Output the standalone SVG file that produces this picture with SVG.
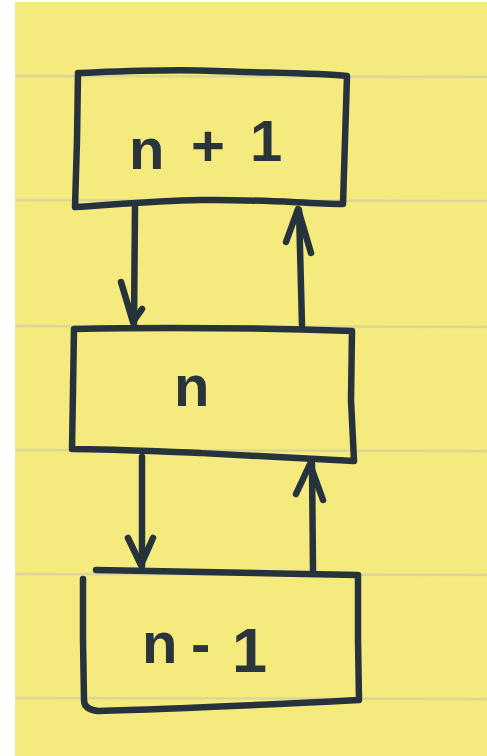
<svg xmlns="http://www.w3.org/2000/svg" width="487" height="756" viewBox="0 0 487 756">
  <style>
    .ink { fill: none; stroke: #27333c; stroke-width: 6.5; stroke-linecap: round; stroke-linejoin: round; }
    .rule { stroke: #dcd69b; stroke-width: 2.5; }
    .label { font-family: "Liberation Sans", Arial, sans-serif; font-weight: bold; font-size: 58px; fill: #2a343b; }
  </style>

  <!-- legal pad sheet -->
  <rect width="487" height="756" fill="#ffffff"/>
  <rect x="15" y="2" width="472" height="754" fill="#f4ea7e"/>
  <g id="ruling">
    <line class="rule" x1="15" y1="76" x2="487" y2="77"/>
    <line class="rule" x1="15" y1="200" x2="487" y2="201"/>
    <line class="rule" x1="15" y1="326" x2="487" y2="327"/>
    <line class="rule" x1="15" y1="450" x2="487" y2="451"/>
    <line class="rule" x1="15" y1="574" x2="487" y2="575"/>
    <line class="rule" x1="15" y1="698" x2="487" y2="699"/>
  </g>

  <!-- stack frames -->
  <g id="node-n-plus-1">
    <path class="ink" d="M78,73 C130,71 170,69 215,71 C270,73 320,73 347,76 L345,140 L343,204 C300,203 250,199 200,200 C150,201 110,205 75,207 L77,140 Z"/>
    <text class="label"><tspan x="129" y="169">n</tspan> <tspan x="191" y="166">+</tspan> <tspan x="250" y="161">1</tspan></text>
  </g>

  <g id="node-n">
    <path class="ink" d="M74,329 C160,327 260,328 352,331 L351,400 L354,461 C300,458 250,456 200,453 C150,451 110,449 72,449 L73,390 Z"/>
    <text class="label"><tspan x="174" y="406">n</tspan></text>
  </g>

  <g id="node-n-minus-1">
    <path class="ink" d="M96,570 C180,572 270,573 358,575 L358,640 L359,700 C280,704 180,709 98,711 C88,710 84,706 84,700 L83,640 L83,579"/>
    <text class="label"><tspan x="142" y="663">n</tspan> <tspan x="191" y="664">-</tspan> <tspan x="232" y="672" font-size="63">1</tspan></text>
  </g>

  <!-- calls go down, returns come back up -->
  <g id="connectors">
    <path class="ink" d="M135,207 L134,324"/>
    <path class="ink" d="M121,282 L133,322 L142,309"/>
    <path class="ink" d="M302,325 L299,210"/>
    <path class="ink" d="M286,242 L298,209 L311,253"/>
    <path class="ink" d="M142,457 L142,566"/>
    <path class="ink" d="M128,538 L141,565 L153,538"/>
    <path class="ink" d="M313,570 L312,464"/>
    <path class="ink" d="M296,494 L310,464 L323,500"/>
  </g>
</svg>
